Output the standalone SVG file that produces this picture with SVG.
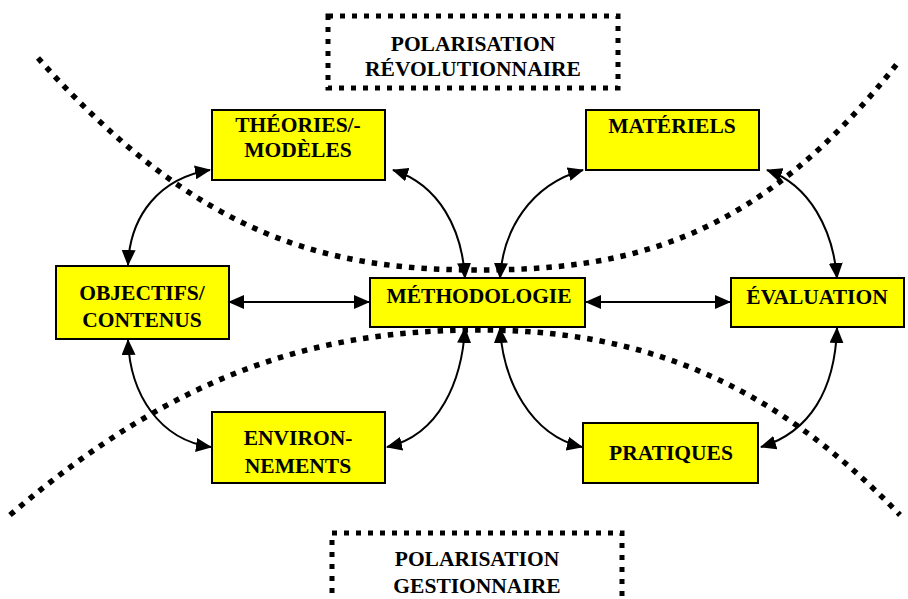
<svg xmlns="http://www.w3.org/2000/svg" width="908" height="599" viewBox="0 0 908 599">
<style>
.box{fill:#ffff00;stroke:#000;stroke-width:2}
.frame{fill:none;stroke:#000;stroke-width:5;stroke-dasharray:5 7}
.band{fill:none;stroke:#000;stroke-width:5.5;stroke-dasharray:5.5 7}
.t{font-family:"Liberation Serif","Times New Roman",serif;font-weight:bold;font-size:21.5px;fill:#000;text-anchor:middle}
.c{fill:none;stroke:#000;stroke-width:2;marker-start:url(#ah);marker-end:url(#ah)}
</style>
<defs>
<marker id="ah" viewBox="0 0 16 14" refX="15" refY="7" markerWidth="16" markerHeight="14" markerUnits="userSpaceOnUse" orient="auto-start-reverse">
<path d="M0,0 L16,7 L0,14 z" fill="#000"/>
</marker>
</defs>
<rect width="908" height="599" fill="#fff"/>
<g id="polarisation-curves">
<path class="band" d="M38,58 C200,240 330,270 480,270 C630,270 760,240 900,60"/>
<path class="band" d="M10,515 C180,370 320,330 480,330 C640,330 770,380 900,515"/>
</g>
<g id="polarisation-revolutionnaire">
<rect class="frame" x="328" y="16" width="290" height="72"/>
<text class="t" x="473" y="51">POLARISATION</text>
<text class="t" x="473" y="76">RÉVOLUTIONNAIRE</text>
</g>
<g id="polarisation-gestionnaire">
<rect class="frame" x="332" y="533" width="290" height="70"/>
<text class="t" x="477" y="566">POLARISATION</text>
<text class="t" x="477" y="593">GESTIONNAIRE</text>
</g>
<g id="connectors">
<path class="c" d="M210,170 C160,178 130,215 128,265"/>
<path class="c" d="M393,170 C440,185 462,230 465,278"/>
<path class="c" d="M583,170 C530,185 503,230 500,278"/>
<path class="c" d="M767,170 C810,185 833,230 837,278"/>
<path class="c" d="M229,302 L369,302"/>
<path class="c" d="M586,302 L730,302"/>
<path class="c" d="M128,340 C130,395 160,440 211,447"/>
<path class="c" d="M387,447 C440,435 462,380 465,328"/>
<path class="c" d="M500,328 C503,380 530,435 582,447"/>
<path class="c" d="M837,328 C835,390 810,432 761,447"/>
</g>
<g id="theories-modeles">
<rect class="box" x="212" y="110" width="173" height="70"/>
<text class="t" x="298" y="132">THÉORIES/-</text>
<text class="t" x="298" y="157">MODÈLES</text>
</g>
<g id="materiels">
<rect class="box" x="586" y="110" width="173" height="60"/>
<text class="t" x="672" y="133">MATÉRIELS</text>
</g>
<g id="objectifs-contenus">
<rect class="box" x="56" y="266" width="173" height="73"/>
<text class="t" x="142" y="300">OBJECTIFS/</text>
<text class="t" x="142" y="327">CONTENUS</text>
</g>
<g id="methodologie">
<rect class="box" x="370" y="278" width="215" height="49"/>
<text class="t" x="479" y="303">MÉTHODOLOGIE</text>
</g>
<g id="evaluation">
<rect class="box" x="731" y="278" width="173" height="49"/>
<text class="t" x="817" y="304">ÉVALUATION</text>
</g>
<g id="environnements">
<rect class="box" x="212" y="412" width="173" height="71"/>
<text class="t" x="298" y="445">ENVIRON-</text>
<text class="t" x="298" y="473">NEMENTS</text>
</g>
<g id="pratiques">
<rect class="box" x="583" y="423" width="175" height="60"/>
<text class="t" x="671" y="460">PRATIQUES</text>
</g>
</svg>
